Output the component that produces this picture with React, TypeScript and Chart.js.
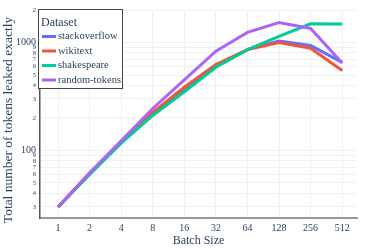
import React, { useEffect, useRef } from "react";
import { Chart, registerables } from "chart.js";

Chart.register(...registerables);

const batchSizes = [1, 2, 4, 8, 16, 32, 64, 128, 256, 512];
const stackoverflow = [30, 61, 120, 220, 370, 610, 860, 1030, 940, 655];
const wikitext = [30, 61, 121, 225, 385, 625, 860, 1000, 885, 550];
const shakespeare = [30, 60, 117, 211, 350, 590, 860, 1140, 1490, 1480];
const randomTokens = [30, 62, 123, 245, 450, 830, 1240, 1530, 1350, 645];
const seriesNames = ["stackoverflow", "wikitext", "shakespeare", "random-tokens"];
const seriesColors = ["#636efa", "#EF553B", "#00cc96", "#ab63fa"];
const yTickValues = [30, 40, 50, 60, 70, 80, 90, 100, 200, 300, 400, 500, 600, 700, 800, 900, 1000, 2000];
const yTitle = "Total number of tokens leaked exactly";
const xTitle = "Batch Size";
const legendTitle = "Dataset";

const FONT = '"Liberation Serif", "Times New Roman", serif';
const TEXT = "#2a3f5f";

const legendPlugin = {
  id: "boxLegend",
  afterDraw(chart: any) {
    const ctx = chart.ctx;
    ctx.save();
    // y-axis title
    ctx.save();
    ctx.translate(8.5, 120);
    ctx.rotate(-Math.PI / 2);
    ctx.fillStyle = TEXT;
    ctx.font = `13.5px ${FONT}`;
    ctx.textAlign = "center";
    ctx.textBaseline = "middle";
    ctx.fillText(yTitle, 0, 0);
    ctx.restore();
    // legend box
    const x = 38.5, y = 9.5, w = 84, h = 79;
    ctx.fillStyle = "#ffffff";
    ctx.fillRect(x, y, w, h);
    ctx.strokeStyle = "#444444";
    ctx.lineWidth = 1;
    ctx.strokeRect(x, y, w, h);
    ctx.fillStyle = TEXT;
    ctx.textBaseline = "middle";
    ctx.textAlign = "left";
    ctx.font = `12px ${FONT}`;
    ctx.fillText(legendTitle, 41, 22.5);
    ctx.font = `10.5px ${FONT}`;
    chart.data.datasets.forEach((ds: any, i: number) => {
      const cy = 36.5 + i * 14.5;
      ctx.strokeStyle = ds.borderColor;
      ctx.lineWidth = 3;
      ctx.beginPath();
      ctx.moveTo(42, cy);
      ctx.lineTo(56, cy);
      ctx.stroke();
      ctx.fillStyle = TEXT;
      ctx.fillText(ds.label, 58, cy);
    });
    ctx.restore();
  },
};

export default function App() {
  const ref = useRef<HTMLCanvasElement>(null);
  useEffect(() => {
    if (!ref.current) return;
    const all = [stackoverflow, wikitext, shakespeare, randomTokens];
    const chart = new Chart(ref.current, {
      type: "line",
      data: {
        datasets: all.map((vals, i) => ({
          label: seriesNames[i],
          data: batchSizes.map((b, j) => ({ x: b, y: vals[j] })),
          borderColor: seriesColors[i],
          backgroundColor: seriesColors[i],
          borderWidth: 3,
          pointRadius: 0,
          tension: 0,
          order: 4 - i,
        })),
      },
      options: {
        animation: false,
        responsive: false,
        layout: { padding: { top: 10, right: 16, left: 0, bottom: 0 } },
        plugins: { legend: { display: false }, tooltip: { enabled: false } },
        scales: {
          x: {
            type: "logarithmic",
            min: 0.673,
            max: 709,
            afterBuildTicks: (axis: any) => {
              axis.ticks = batchSizes.map((v) => ({ value: v }));
            },
            afterFit: (scale: any) => {
              scale.height = 31;
            },
            ticks: {
              autoSkip: false,
              maxRotation: 0,
              padding: 4,
              color: TEXT,
              font: { family: FONT, size: 10 },
              callback: (v: any) => String(v),
            },
            grid: { color: "#f0f0f0", drawTicks: false },
            border: { color: "#999999", width: 2 },
            title: {
              display: true,
              text: xTitle,
              color: TEXT,
              font: { family: FONT, size: 12 },
              padding: { top: 0, bottom: 0.5 },
            },
          },
          y: {
            type: "logarithmic",
            min: 23.7,
            max: 2000,
            afterBuildTicks: (axis: any) => {
              axis.ticks = yTickValues.map((v) => ({ value: v }));
            },
            afterFit: (scale: any) => {
              scale.width = 40;
            },
            ticks: {
              autoSkip: false,
              padding: 4,
              color: TEXT,
              font: (c: any) => {
                const v = c.tick ? c.tick.value : 100;
                const major = Math.abs(Math.log10(v) - Math.round(Math.log10(v))) < 1e-9;
                return { family: FONT, size: major ? 10 : 6.5 };
              },
              callback: (v: any) => {
                const n = Number(v);
                const p = Math.pow(10, Math.floor(Math.log10(n) + 1e-9));
                const lead = Math.round(n / p);
                return lead === 1 ? String(n) : String(lead);
              },
            },
            grid: { color: "#f0f0f0", drawTicks: false },
            border: { color: "#555555", width: 1.5 },
            title: { display: false },
          },
        },
      },
      plugins: [legendPlugin],
    });
    return () => chart.destroy();
  }, []);
  return (
    <div style={{ position: "fixed", left: 0, top: 0, width: 373, height: 249, background: "#fff" }}>
      <canvas ref={ref} width={373} height={249} style={{ width: 373, height: 249 }} />
    </div>
  );
}
